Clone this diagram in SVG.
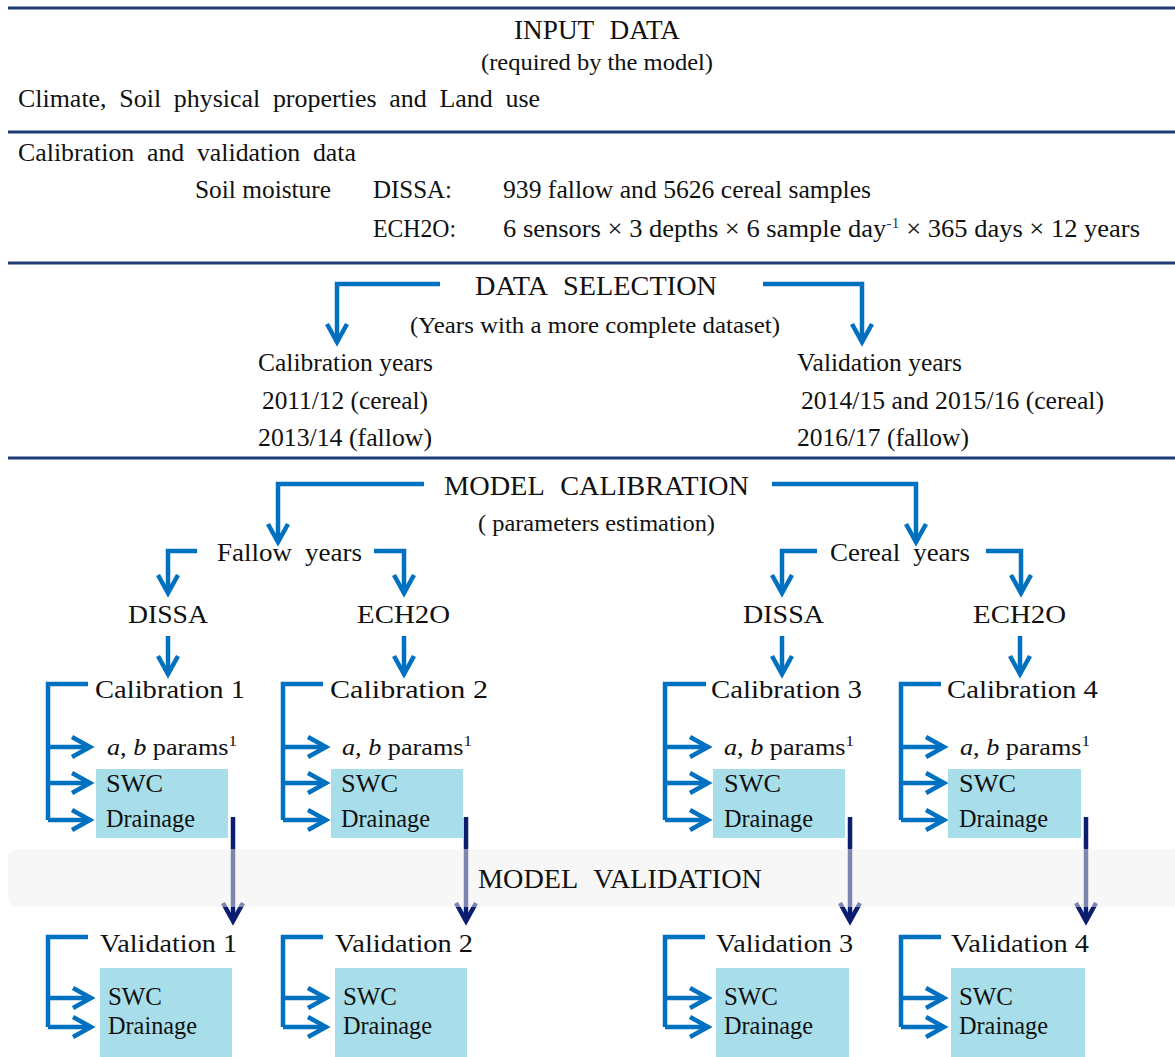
<svg xmlns="http://www.w3.org/2000/svg" width="1175" height="1057" viewBox="0 0 1175 1057">
<style>
.h{font-size:27px;word-spacing:9px;}
.b{font-size:25px;}
.s{font-size:23px;}
.w{word-spacing:6px;}
.c{font-size:26px;}
.box{fill:#a8dee9;}
.rule{stroke:#1f3b77;stroke-width:3;}
.blue{fill:none;stroke:#0070c0;stroke-width:4.5;}
.navy{fill:none;stroke:#0b1d6f;stroke-width:4.5;}
.sup{font-size:15px;}
</style>
<defs>
<marker id="ab" viewBox="-4 -14 28 28" markerWidth="28" markerHeight="28" refX="18" refY="0" orient="auto" markerUnits="userSpaceOnUse" overflow="visible">
<path d="M0,-10 L18,0 L0,10" fill="none" stroke="#0070c0" stroke-width="4.5"/>
</marker>
<marker id="an" viewBox="-4 -14 28 28" markerWidth="28" markerHeight="28" refX="18" refY="0" orient="auto" markerUnits="userSpaceOnUse" overflow="visible">
<path d="M0,-10 L18,0 L0,10" fill="none" stroke="#0b1d6f" stroke-width="4.5"/>
</marker>
</defs>
<rect width="1175" height="1057" fill="#fff"/>

<g id="rules">
<line class="rule" x1="8" y1="8" x2="1175" y2="8"/>
<line class="rule" x1="8" y1="132" x2="1175" y2="132"/>
<line class="rule" x1="8" y1="263" x2="1175" y2="263"/>
<line class="rule" x1="8" y1="458" x2="1175" y2="458"/>
</g>

<g id="input-data" fill="#111">
<text font-family="Liberation Serif" class="h" x="514" y="39" textLength="166" lengthAdjust="spacingAndGlyphs">INPUT DATA</text>
<text font-family="Liberation Serif" class="s" x="481" y="70" textLength="232" lengthAdjust="spacingAndGlyphs">(required by the model)</text>
<text font-family="Liberation Serif" class="b w" x="18" y="107" textLength="522" lengthAdjust="spacingAndGlyphs">Climate, Soil physical properties and Land use</text>
</g>

<g id="calval-data" fill="#111">
<text font-family="Liberation Serif" class="b w" x="18" y="161" textLength="338" lengthAdjust="spacingAndGlyphs">Calibration and validation data</text>
<text font-family="Liberation Serif" class="b" x="195" y="198" textLength="136" lengthAdjust="spacingAndGlyphs">Soil moisture</text>
<text font-family="Liberation Serif" class="b" x="373" y="198" textLength="79" lengthAdjust="spacingAndGlyphs">DISSA:</text>
<text font-family="Liberation Serif" class="b" x="503" y="198" textLength="368" lengthAdjust="spacingAndGlyphs">939 fallow and 5626 cereal samples</text>
<text font-family="Liberation Serif" class="b" x="373" y="237" textLength="83" lengthAdjust="spacingAndGlyphs">ECH2O:</text>
<text font-family="Liberation Serif" class="b" x="503" y="237" textLength="637" lengthAdjust="spacingAndGlyphs">6 sensors × 3 depths × 6 sample day<tspan class="sup" dy="-9" fill="#1f3d7a">-1</tspan><tspan dy="9"> × 365 days × 12 years</tspan></text>
</g>

<g id="data-selection" fill="#111">
<text font-family="Liberation Serif" class="h" x="475" y="295" textLength="242" lengthAdjust="spacingAndGlyphs">DATA SELECTION</text>
<text font-family="Liberation Serif" class="s" x="410" y="333" textLength="370" lengthAdjust="spacingAndGlyphs">(Years with a more complete dataset)</text>
</g>

<g id="calibration-years" fill="#111">
<text font-family="Liberation Serif" class="b" x="258" y="371" textLength="175" lengthAdjust="spacingAndGlyphs">Calibration years</text>
<text font-family="Liberation Serif" class="b" x="262" y="409" textLength="166" lengthAdjust="spacingAndGlyphs">2011/12 (cereal)</text>
<text font-family="Liberation Serif" class="b" x="258" y="446" textLength="174" lengthAdjust="spacingAndGlyphs">2013/14 (fallow)</text>
</g>

<g id="validation-years" fill="#111">
<text font-family="Liberation Serif" class="b" x="797" y="371" textLength="165" lengthAdjust="spacingAndGlyphs">Validation years</text>
<text font-family="Liberation Serif" class="b" x="801" y="409" textLength="303" lengthAdjust="spacingAndGlyphs">2014/15 and 2015/16 (cereal)</text>
<text font-family="Liberation Serif" class="b" x="797" y="446" textLength="172" lengthAdjust="spacingAndGlyphs">2016/17 (fallow)</text>
</g>

<g id="model-calibration" fill="#111">
<text font-family="Liberation Serif" class="h" x="444" y="495" textLength="305" lengthAdjust="spacingAndGlyphs">MODEL CALIBRATION</text>
<text font-family="Liberation Serif" class="s" x="478" y="531" textLength="237" lengthAdjust="spacingAndGlyphs">( parameters estimation)</text>
</g>

<g id="fallow-years" fill="#111"><text font-family="Liberation Serif" class="c w" x="217" y="561" textLength="145" lengthAdjust="spacingAndGlyphs">Fallow years</text></g>
<g id="cereal-years" fill="#111"><text font-family="Liberation Serif" class="c w" x="830" y="561" textLength="140" lengthAdjust="spacingAndGlyphs">Cereal years</text></g>

<g id="dissa-fallow" fill="#111"><text font-family="Liberation Serif" class="c" x="128" y="623" textLength="80" lengthAdjust="spacingAndGlyphs">DISSA</text></g>
<g id="ech2o-fallow" fill="#111"><text font-family="Liberation Serif" class="c" x="357" y="623" textLength="93" lengthAdjust="spacingAndGlyphs">ECH2O</text></g>
<g id="dissa-cereal" fill="#111"><text font-family="Liberation Serif" class="c" x="743" y="623" textLength="81" lengthAdjust="spacingAndGlyphs">DISSA</text></g>
<g id="ech2o-cereal" fill="#111"><text font-family="Liberation Serif" class="c" x="973" y="623" textLength="93" lengthAdjust="spacingAndGlyphs">ECH2O</text></g>

<g id="connectors">
<path class="blue" d="M440,284 H337 V342" marker-end="url(#ab)"/>
<path class="blue" d="M763,284 H862 V342" marker-end="url(#ab)"/>
<path class="blue" d="M424,484 H278 V542" marker-end="url(#ab)"/>
<path class="blue" d="M772,484 H916 V542" marker-end="url(#ab)"/>
<path class="blue" d="M197,551 H168 V593" marker-end="url(#ab)"/>
<path class="blue" d="M374,551 H404 V593" marker-end="url(#ab)"/>
<path class="blue" d="M817,551 H782 V593" marker-end="url(#ab)"/>
<path class="blue" d="M986,551 H1021 V593" marker-end="url(#ab)"/>
<path class="blue" d="M168,636 V674" marker-end="url(#ab)"/>
<path class="blue" d="M404,636 V674" marker-end="url(#ab)"/>
<path class="blue" d="M782,636 V674" marker-end="url(#ab)"/>
<path class="blue" d="M1020,636 V674" marker-end="url(#ab)"/>
<path class="blue" d="M88,684 H48 V820"/>
<path class="blue" d="M48,747 H90" marker-end="url(#ab)"/>
<path class="blue" d="M48,783 H90" marker-end="url(#ab)"/>
<path class="blue" d="M48,820 H90" marker-end="url(#ab)"/>
<path class="blue" d="M323,684 H283 V820"/>
<path class="blue" d="M283,747 H326" marker-end="url(#ab)"/>
<path class="blue" d="M283,783 H326" marker-end="url(#ab)"/>
<path class="blue" d="M283,820 H326" marker-end="url(#ab)"/>
<path class="blue" d="M706,684 H665 V820"/>
<path class="blue" d="M665,747 H708" marker-end="url(#ab)"/>
<path class="blue" d="M665,783 H708" marker-end="url(#ab)"/>
<path class="blue" d="M665,820 H708" marker-end="url(#ab)"/>
<path class="blue" d="M941,684 H901 V820"/>
<path class="blue" d="M901,747 H944" marker-end="url(#ab)"/>
<path class="blue" d="M901,783 H944" marker-end="url(#ab)"/>
<path class="blue" d="M901,820 H944" marker-end="url(#ab)"/>
<path class="blue" d="M88,937 H48 V1027"/>
<path class="blue" d="M48,998 H91" marker-end="url(#ab)"/>
<path class="blue" d="M48,1027 H91" marker-end="url(#ab)"/>
<path class="blue" d="M323,937 H283 V1027"/>
<path class="blue" d="M283,998 H326" marker-end="url(#ab)"/>
<path class="blue" d="M283,1027 H326" marker-end="url(#ab)"/>
<path class="blue" d="M705,937 H665 V1027"/>
<path class="blue" d="M665,998 H708" marker-end="url(#ab)"/>
<path class="blue" d="M665,1027 H708" marker-end="url(#ab)"/>
<path class="blue" d="M941,937 H901 V1027"/>
<path class="blue" d="M901,998 H944" marker-end="url(#ab)"/>
<path class="blue" d="M901,1027 H944" marker-end="url(#ab)"/>
<path class="navy" d="M233,817 V921" marker-end="url(#an)"/>
<path class="navy" d="M466,817 V921" marker-end="url(#an)"/>
<path class="navy" d="M850,817 V921" marker-end="url(#an)"/>
<path class="navy" d="M1086,817 V921" marker-end="url(#an)"/>
</g>

<g id="calibration-1" fill="#111">
<rect class="box" x="96" y="769" width="132" height="69"/>
<text font-family="Liberation Serif" class="c" x="95" y="698" textLength="150" lengthAdjust="spacingAndGlyphs">Calibration 1</text>
<text font-family="Liberation Serif" class="s" x="107" y="755" textLength="130" lengthAdjust="spacingAndGlyphs"><tspan font-style="italic">a</tspan>, <tspan font-style="italic">b</tspan> params<tspan class="sup" dy="-9">1</tspan></text>
<text font-family="Liberation Serif" class="b" x="106" y="792" textLength="57" lengthAdjust="spacingAndGlyphs">SWC</text>
<text font-family="Liberation Serif" class="b" x="106" y="827" textLength="89" lengthAdjust="spacingAndGlyphs">Drainage</text>
</g>
<g id="calibration-2" fill="#111">
<rect class="box" x="331" y="769" width="132" height="69"/>
<text font-family="Liberation Serif" class="c" x="330" y="698" textLength="158" lengthAdjust="spacingAndGlyphs">Calibration 2</text>
<text font-family="Liberation Serif" class="s" x="342" y="755" textLength="130" lengthAdjust="spacingAndGlyphs"><tspan font-style="italic">a</tspan>, <tspan font-style="italic">b</tspan> params<tspan class="sup" dy="-9">1</tspan></text>
<text font-family="Liberation Serif" class="b" x="341" y="792" textLength="57" lengthAdjust="spacingAndGlyphs">SWC</text>
<text font-family="Liberation Serif" class="b" x="341" y="827" textLength="89" lengthAdjust="spacingAndGlyphs">Drainage</text>
</g>
<g id="calibration-3" fill="#111">
<rect class="box" x="713" y="769" width="132" height="69"/>
<text font-family="Liberation Serif" class="c" x="711" y="698" textLength="151" lengthAdjust="spacingAndGlyphs">Calibration 3</text>
<text font-family="Liberation Serif" class="s" x="724" y="755" textLength="130" lengthAdjust="spacingAndGlyphs"><tspan font-style="italic">a</tspan>, <tspan font-style="italic">b</tspan> params<tspan class="sup" dy="-9">1</tspan></text>
<text font-family="Liberation Serif" class="b" x="724" y="792" textLength="57" lengthAdjust="spacingAndGlyphs">SWC</text>
<text font-family="Liberation Serif" class="b" x="724" y="827" textLength="89" lengthAdjust="spacingAndGlyphs">Drainage</text>
</g>
<g id="calibration-4" fill="#111">
<rect class="box" x="948" y="769" width="133" height="69"/>
<text font-family="Liberation Serif" class="c" x="947" y="698" textLength="151" lengthAdjust="spacingAndGlyphs">Calibration 4</text>
<text font-family="Liberation Serif" class="s" x="960" y="755" textLength="130" lengthAdjust="spacingAndGlyphs"><tspan font-style="italic">a</tspan>, <tspan font-style="italic">b</tspan> params<tspan class="sup" dy="-9">1</tspan></text>
<text font-family="Liberation Serif" class="b" x="959" y="792" textLength="57" lengthAdjust="spacingAndGlyphs">SWC</text>
<text font-family="Liberation Serif" class="b" x="959" y="827" textLength="89" lengthAdjust="spacingAndGlyphs">Drainage</text>
</g>

<g id="model-validation" fill="#111">
<rect x="8" y="849" width="1175" height="58" rx="9" fill="#f0f0f0" fill-opacity="0.5"/>
<text font-family="Liberation Serif" class="h" x="478" y="888" textLength="284" lengthAdjust="spacingAndGlyphs">MODEL VALIDATION</text>
</g>

<g id="validation-1" fill="#111">
<rect class="box" x="100" y="968" width="132" height="89"/>
<text font-family="Liberation Serif" class="c" x="100" y="952" textLength="137" lengthAdjust="spacingAndGlyphs">Validation 1</text>
<text font-family="Liberation Serif" class="b" x="108" y="1005" textLength="54" lengthAdjust="spacingAndGlyphs">SWC</text>
<text font-family="Liberation Serif" class="b" x="108" y="1034" textLength="89" lengthAdjust="spacingAndGlyphs">Drainage</text>
</g>
<g id="validation-2" fill="#111">
<rect class="box" x="335" y="968" width="132" height="89"/>
<text font-family="Liberation Serif" class="c" x="335" y="952" textLength="138" lengthAdjust="spacingAndGlyphs">Validation 2</text>
<text font-family="Liberation Serif" class="b" x="343" y="1005" textLength="54" lengthAdjust="spacingAndGlyphs">SWC</text>
<text font-family="Liberation Serif" class="b" x="343" y="1034" textLength="89" lengthAdjust="spacingAndGlyphs">Drainage</text>
</g>
<g id="validation-3" fill="#111">
<rect class="box" x="716" y="968" width="133" height="89"/>
<text font-family="Liberation Serif" class="c" x="716" y="952" textLength="137" lengthAdjust="spacingAndGlyphs">Validation 3</text>
<text font-family="Liberation Serif" class="b" x="724" y="1005" textLength="54" lengthAdjust="spacingAndGlyphs">SWC</text>
<text font-family="Liberation Serif" class="b" x="724" y="1034" textLength="89" lengthAdjust="spacingAndGlyphs">Drainage</text>
</g>
<g id="validation-4" fill="#111">
<rect class="box" x="951" y="968" width="134" height="89"/>
<text font-family="Liberation Serif" class="c" x="951" y="952" textLength="138" lengthAdjust="spacingAndGlyphs">Validation 4</text>
<text font-family="Liberation Serif" class="b" x="959" y="1005" textLength="54" lengthAdjust="spacingAndGlyphs">SWC</text>
<text font-family="Liberation Serif" class="b" x="959" y="1034" textLength="89" lengthAdjust="spacingAndGlyphs">Drainage</text>
</g>
</svg>
